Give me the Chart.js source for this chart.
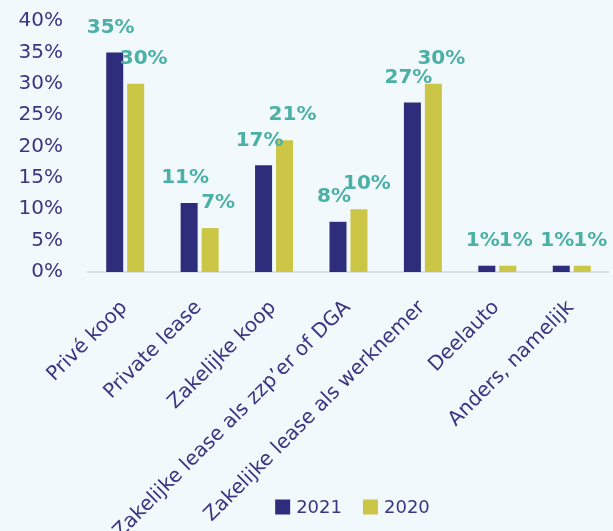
<!DOCTYPE html>
<html>
<head>
<meta charset="utf-8">
<script src="https://cdn.jsdelivr.net/npm/chart.js@4/dist/chart.umd.min.js"></script>
<style>
  html, body { margin: 0; padding: 0; background: #f1f9fc; }
  #wrap { position: relative; width: 613px; height: 531px; }
</style>
</head>
<body>
<div id="wrap"><canvas id="chart-area"></canvas></div>
<script>
const categories = ['Privé koop', 'Private lease', 'Zakelijke koop', 'Zakelijke lease als zzp’er of DGA', 'Zakelijke lease als werknemer', 'Deelauto', 'Anders, namelijk'];
const years = ['2021', '2020'];
const values2021 = [35, 11, 17, 8, 27, 1, 1];
const values2020 = [30, 7, 21, 10, 30, 1, 1];
const yTicks = [0, 5, 10, 15, 20, 25, 30, 35, 40];

const navy = '#2d2d7c';
const yellow = '#cbc645';
const teal = '#4bb0a5';
const textColor = '#373682';
const fontFamily = '"DejaVu Sans", sans-serif';

// percentage labels above each bar, nudged apart per series
const valueLabels = {
  id: 'valueLabels',
  afterDatasetsDraw(chart) {
    const ctx = chart.ctx;
    const shift = [-4, 8];
    ctx.save();
    ctx.font = 'bold 20px ' + fontFamily;
    ctx.fillStyle = teal;
    ctx.textAlign = 'center';
    ctx.textBaseline = 'middle';
    chart.data.datasets.forEach((ds, i) => {
      chart.getDatasetMeta(i).data.forEach((bar, j) => {
        ctx.fillText(ds.data[j] + '%', bar.x + shift[i], bar.y - 25);
      });
    });
    ctx.restore();
  }
};

// legend sits between the rotated labels, so it is drawn by hand
const bottomLegend = {
  id: 'bottomLegend',
  afterDraw(chart) {
    const ctx = chart.ctx;
    const area = chart.chartArea;
    const box = 15, gap = 6, spacing = 21;
    ctx.save();
    ctx.font = '18px ' + fontFamily;
    ctx.textBaseline = 'middle';
    const items = chart.data.datasets.map(ds => ({
      label: ds.label,
      color: ds.backgroundColor,
      w: box + gap + ctx.measureText(ds.label).width
    }));
    const total = _sum(items.map(it => it.w)) + spacing * (items.length - 1);
    let x = (area.left + area.right) / 2 + 4 - total / 2;
    const y = 507;
    items.forEach(it => {
      ctx.fillStyle = it.color;
      ctx.fillRect(x, y - box / 2, box, box);
      ctx.fillStyle = textColor;
      ctx.fillText(it.label, x + box + gap, y + 1);
      x += it.w + spacing;
    });
    ctx.restore();
  }
};

function _sum(arr) {
  return arr.reduce((a, b) => a + b, 0);
}

var ctx = document.getElementById('chart-area').getContext('2d');
window.myBar = new Chart(ctx, {
  type: 'bar',
  data: {
    labels: categories,
    datasets: [
      { label: years[0], data: values2021, backgroundColor: navy },
      { label: years[1], data: values2020, backgroundColor: yellow }
    ]
  },
  options: {
    responsive: true,
    maintainAspectRatio: false,
    animation: false,
    categoryPercentage: 0.564,
    barPercentage: 0.81,
    layout: { padding: { top: 0, right: 4, left: 0, bottom: 0 } },
    plugins: {
      legend: { display: false },
      tooltip: { enabled: false }
    },
    scales: {
      x: {
        grid: { display: false, drawTicks: false },
        border: { display: true, color: '#dcdfe2', width: 2 },
        ticks: {
          color: textColor,
          font: { family: fontFamily, size: 20 },
          minRotation: 45,
          maxRotation: 45,
          autoSkip: false,
          labelOffset: -1,
          padding: 24
        },
        afterFit(scale) { scale.height = 259; }
      },
      y: {
        min: 0,
        max: 40,
        grid: { display: false, drawTicks: false },
        border: { display: false },
        afterBuildTicks(scale) { scale.ticks = yTicks.map(v => ({ value: v })); },
        ticks: {
          color: textColor,
          font: { family: fontFamily, size: 20 },
          padding: 25,
          callback: v => v + '%'
        },
        // tick padding would otherwise push the plot top down
        afterFit(scale) {
          scale.width = 88;
          scale.paddingTop = 21;
        }
      }
    }
  },
  plugins: [valueLabels, bottomLegend]
});
</script>
</body>
</html>
